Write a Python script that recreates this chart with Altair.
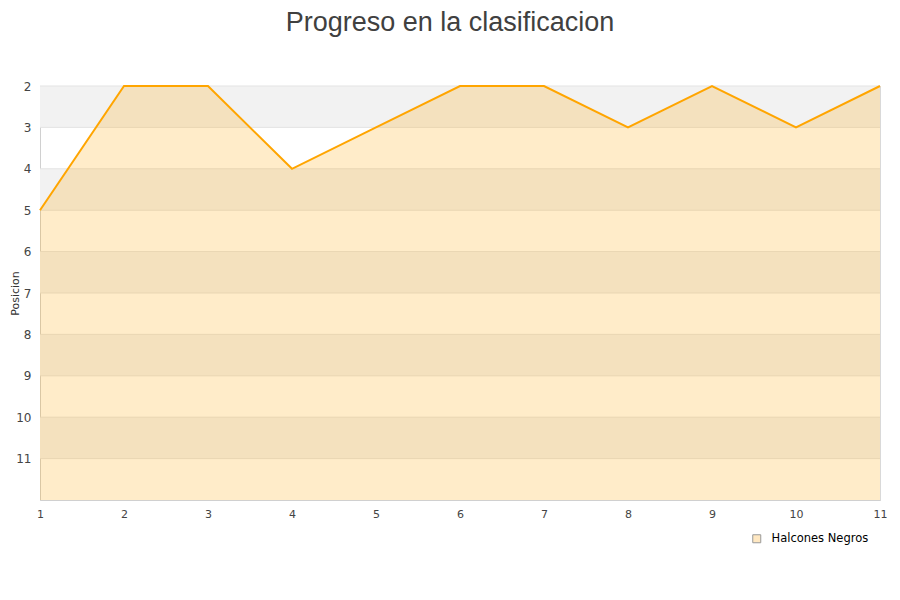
import altair as alt
import pandas as pd

jornadas = [1, 2, 3, 4, 5, 6, 7, 8, 9, 10, 11]
posiciones = [5, 2, 2, 4, 3, 2, 2, 3, 2, 3, 2]
equipo = "Halcones Negros"
band_start = [2, 4, 6, 8, 10]
y_ticks = [2, 3, 4, 5, 6, 7, 8, 9, 10, 11]
y_min, y_max = 2, 12

df = pd.DataFrame({"jornada": jornadas, "pos": posiciones, "equipo": equipo, "base": y_max})
bands = pd.DataFrame({"y1": band_start, "y2": [b + 1 for b in band_start]})
grid = pd.DataFrame({"g": y_ticks})

xs = alt.Scale(domain=[1, 11], nice=False, zero=False)
ys = alt.Scale(domain=[y_min, y_max], reverse=True, nice=False, zero=False)

band_layer = alt.Chart(bands).mark_rect(color="#f2f2f2").encode(
    x=alt.value(0), x2=alt.value(840),
    y=alt.Y("y1:Q", scale=ys), y2="y2:Q",
)
grid_layer = alt.Chart(grid).mark_rule(color="#e3e3e3", strokeWidth=1).encode(
    y=alt.Y("g:Q", scale=ys), x=alt.value(0), x2=alt.value(840)
)

area = alt.Chart(df).mark_area(opacity=0.21, color="#ffa500").encode(
    x=alt.X("jornada:Q", scale=xs,
            axis=alt.Axis(values=jornadas, title=None, grid=False, ticks=False,
                          labelFont="DejaVu Sans", labelFontSize=11, labelColor="#444444",
                          labelPadding=8, labelFlush=False, domainColor="#d0d0d0", format="d")),
    y=alt.Y("pos:Q", scale=ys,
            axis=alt.Axis(values=y_ticks, title="Posicion", grid=False, ticks=False,
                          labelFont="DejaVu Sans", labelFontSize=12, labelColor="#444444",
                          labelPadding=9, labelFlush=False, domainColor="#d0d0d0",
                          titleFont="DejaVu Sans", titleFontSize=11, titleFontWeight="normal",
                          titleColor="#333333", titleX=-25, titleY=207,
                          titleAlign="center", titleBaseline="middle", titleAngle=270,
                          format="d")),
    y2="base:Q",
)

line = alt.Chart(df).mark_line(color="#ffa500", strokeWidth=2).encode(
    x=alt.X("jornada:Q", scale=xs),
    y=alt.Y("pos:Q", scale=ys),
)

legend_layer = alt.Chart(df).mark_point(size=0, filled=True).encode(
    x=alt.X("jornada:Q", scale=xs),
    y=alt.Y("pos:Q", scale=ys),
    color=alt.Color("equipo:N",
                    scale=alt.Scale(range=["#ffe8c2"]),
                    legend=alt.Legend(title=None, orient="none", legendX=711, legendY=447,
                                      symbolType="square", symbolSize=64,
                                      symbolStrokeColor="#999999", symbolStrokeWidth=1,
                                      symbolFillColor="#ffe9c6", symbolOpacity=1,
                                      labelOffset=9,
                                      labelFont="DejaVu Sans", labelFontSize=11.5,
                                      labelColor="#000000")),
)

chart = alt.layer(band_layer, grid_layer, area, line, legend_layer).properties(
    width=840, height=414,
    autosize=alt.AutoSizeParams(type="none"),
    padding={"left": 32, "top": 78, "right": 12, "bottom": 80},
    title=alt.TitleParams("Progreso en la clasificacion", font="Liberation Sans",
                          fontSize=27, fontWeight="normal", color="#404040",
                          anchor="middle", dx=-10, offset=43),
).configure_view(stroke="#d9d9d9")

chart.save("out.html", embed_options={"renderer": "svg", "actions": False})
